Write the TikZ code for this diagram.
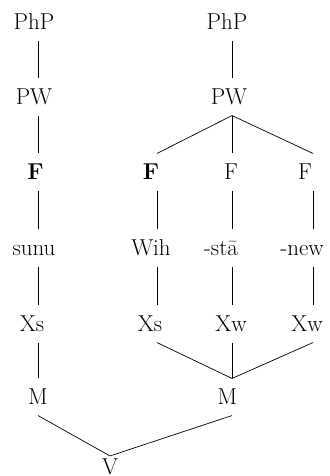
\documentclass[tikz,border=0pt]{standalone}
\usepackage{fontspec}
% label text shifted sideways from its branch point by half of #1
\newcommand\offsettext[2]{\makebox[0pt]{\kern#1\relax #2}}
\begin{document}
\begin{tikzpicture}[x=1pt,y=-1pt,
  lab/.style={font=\fontsize{23}{28}\selectfont, text height=15.7pt, text depth=0pt,
              inner xsep=1pt, inner ysep=10.5pt, anchor=center},
  edge/.style={line width=0.7pt}]
\useasboundingbox (0,0) rectangle (329,476);

% left tree
\node[lab] (php1) at (38,22)  {\offsettext{-8pt}{PhP}};
\node[lab] (pw1)  at (38,97)  {\offsettext{-8pt}{PW}};
\node[lab] (f1)   at (38,172) {\offsettext{-5pt}{\textbf{F}}};
\node[lab] (sunu) at (38,248) {\offsettext{-8pt}{sunu}};
\node[lab] (xs1)  at (38,324) {\offsettext{-12pt}{Xs}};
\node[lab] (m1)   at (38,397) {\offsettext{0pt}{M}};

% right tree
\node[lab] (php2) at (232,22)  {\offsettext{-10pt}{PhP}};
\node[lab] (pw2)  at (232,97)  {\offsettext{-6pt}{PW}};
\node[lab] (f2)   at (157,172) {\offsettext{-12pt}{\textbf{F}}};
\node[lab] (f3)   at (232,172) {\offsettext{-2pt}{F}};
\node[lab] (f4)   at (313,172) {\offsettext{-16pt}{F}};
\node[lab] (wih)  at (157,248) {\offsettext{-12pt}{Wih}};
\node[lab] (sta)  at (232,248) {\offsettext{-22pt}{-stā}};
\node[lab] (new)  at (313,248) {\offsettext{-22pt}{-new}};
\node[lab] (xs2)  at (157,324) {\offsettext{-14pt}{Xs}};
\node[lab] (xw1)  at (232,324) {\offsettext{-2pt}{Xw}};
\node[lab] (xw2)  at (313,324) {\offsettext{-12pt}{Xw}};
\node[lab] (m2)   at (232,397) {\offsettext{-9pt}{M}};

% root
\node[lab, inner ysep=3pt] (v) at (110,467) {\offsettext{0pt}{V}};

\draw[edge] (php1) -- (pw1);
\draw[edge] (pw1) -- (f1);
\draw[edge] (f1) -- (sunu);
\draw[edge] (sunu) -- (xs1);
\draw[edge] (xs1) -- (m1);

\draw[edge] (php2) -- (pw2);
\draw[edge] (pw2.south) -- (f2.north);
\draw[edge] (pw2.south) -- (f3.north);
\draw[edge] (pw2.south) -- (f4.north);
\draw[edge] (f2) -- (wih);
\draw[edge] (f3) -- (sta);
\draw[edge] (f4) -- (new);
\draw[edge] (wih) -- (xs2);
\draw[edge] (sta) -- (xw1);
\draw[edge] (new) -- (xw2);
\draw[edge] (xs2.south) -- (m2.north);
\draw[edge] (xw1.south) -- (m2.north);
\draw[edge] (xw2.south) -- (m2.north);

\draw[edge] (m1.south) -- (v.north);
\draw[edge] (m2.south) -- (v.north);
\end{tikzpicture}
\end{document}
